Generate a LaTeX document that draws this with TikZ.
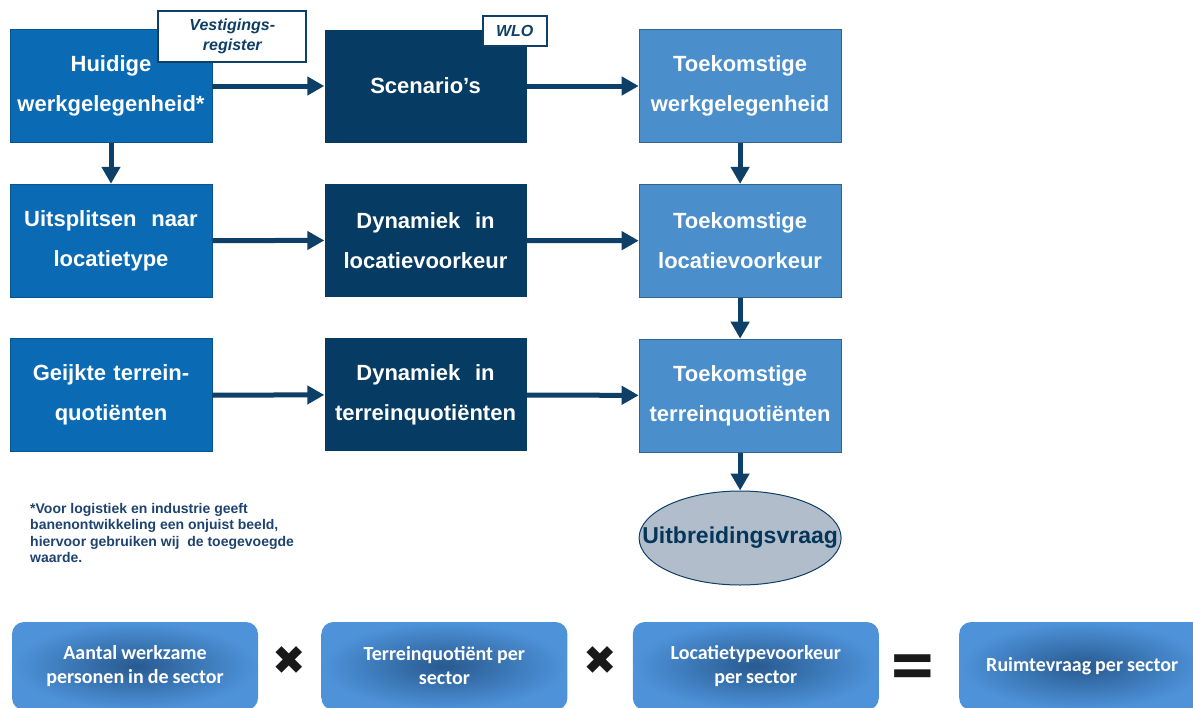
\documentclass[tikz,border=0pt]{standalone}
\usepackage{fontspec}
\setmainfont{Liberation Sans}
\newfontfamily\calibri{Carlito}
\newfontfamily\dejavu{DejaVu Sans}
\usepackage{tikz}
\usetikzlibrary{shapes, arrows.meta, calc, positioning}

\definecolor{midblue}{HTML}{0A6AB4}
\definecolor{navyblue}{HTML}{063C63}
\definecolor{lightblue}{HTML}{4A8FCB}
\definecolor{arrowblue}{HTML}{0E3F66}
\definecolor{ovalgray}{HTML}{B2BDCB}
\definecolor{notecol}{HTML}{1F4370}
\definecolor{sumdark}{HTML}{285A90}
\definecolor{sumlight}{HTML}{4E93DA}

\begin{document}
\begin{tikzpicture}[x=1pt, y=-1pt,
  box/.style={minimum width=202pt, minimum height=113pt, inner sep=0pt, text width=198pt,
    align=center, text=white, font=\fontsize{22}{40}\selectfont\bfseries},
  inbox/.style={box, fill=midblue, draw=midblue!80!black, line width=0.6pt},
  scenbox/.style={box, fill=navyblue},
  outbox/.style={box, fill=lightblue, draw=lightblue!70!black, line width=0.8pt},
  tag/.style={fill=white, draw=arrowblue, line width=2pt, inner sep=0pt, align=center,
    text=arrowblue, font=\fontsize{16}{20}\selectfont\bfseries\itshape},
  pijl/.style={line width=5pt, draw=arrowblue, -{Triangle[length=17pt,width=18pt]}},
  sumbox/.style={rounded corners=12pt, minimum width=246pt, minimum height=88pt, inner sep=0pt,
    text width=240pt, align=center, text=white, inner color=sumdark, outer color=sumlight,
    font=\calibri\fontsize{20}{24}\selectfont\bfseries,
    execute at begin node={\spaceskip=0.2em\relax}},
  teken/.style={inner sep=0pt, text=black!90, font=\dejavu\fontsize{40}{40}\selectfont}
]
\useasboundingbox (0,0) rectangle (1193,707);

% bovenste rij
\node[inbox] (huidig) at (111,86) {Huidige\\werkgelegenheid*};
\node[scenbox, right=112pt of huidig] (scen) {Scenario’s};
\node[outbox, right=112pt of scen] (tkwerk) {Toekomstige\\werkgelegenheid};
\node[tag, minimum width=148pt, minimum height=51pt] (vreg)
  at ([shift={(20,7.5)}]huidig.north east) {Vestigings-\\register};
\node[tag, minimum width=64pt, minimum height=30pt] (wlo)
  at ([shift={(-12,1.5)}]scen.north east) {WLO};

% middelste rij
\node[inbox, below=41pt of huidig] (uitspl) {Uitsplitsen\ \ naar\\locatietype};
\node[scenbox, below=41pt of scen] (dynloc) {Dynamiek\ \ in\\locatievoorkeur};
\node[outbox, below=41pt of tkwerk] (tkloc) {Toekomstige\\locatievoorkeur};

% onderste rij
\node[inbox, below=41pt of uitspl] (geijkt) {Geijkte terrein-\\quotiënten};
\node[scenbox, below=41pt of dynloc] (dynterr) {Dynamiek\ \ in\\terreinquotiënten};
\node[outbox, below=41pt of tkloc] (tkterr) {Toekomstige\\terreinquotiënten};

\node[ellipse, fill=ovalgray, draw=arrowblue, line width=1pt, minimum width=202pt,
  minimum height=94pt, inner sep=0pt, below=38pt of tkterr,
  label={[text=navyblue!90!black, font=\fontsize{23}{23}\selectfont\bfseries]center:Uitbreidingsvraag}] (vraag) {};

\draw[pijl] (huidig) -- (scen);
\draw[pijl] (scen) -- (tkwerk);
\draw[pijl] (uitspl) -- (dynloc);
\draw[pijl] (dynloc) -- (tkloc);
\draw[pijl] (geijkt) -- (dynterr);
\draw[pijl] (dynterr) -- (tkterr);
\draw[pijl] (huidig) -- (uitspl);
\draw[pijl] (tkwerk) -- (tkloc);
\draw[pijl] (tkloc) -- (tkterr);
\draw[pijl] (tkterr) -- (vraag);

\node[anchor=north west, align=left, inner sep=0pt, text=notecol,
  font=\fontsize{14}{16.5}\selectfont\bfseries] (noot) at (30,503)
  {*Voor logistiek en industrie geeft\\banenontwikkeling een onjuist beeld,\\hiervoor gebruiken wij\ \ de toegevoegde\\waarde.};

% formule onderaan
\node[sumbox] (aantal) at (135,666) {Aantal werkzame\\personen in de sector};
\node[sumbox, right=63pt of aantal] (terrq) {Terreinquotiënt per\\sector};
\node[sumbox, right=65pt of terrq] (locvk) {Locatietypevoorkeur\\per sector};
\node[sumbox, right=80pt of locvk] (ruimte) {Ruimtevraag per sector};
\node[teken] (maal1) at ([yshift=5pt]$(aantal.east)!0.5!(terrq.west)$) {✖};
\node[teken] (maal2) at ([yshift=5pt]$(terrq.east)!0.5!(locvk.west)$) {✖};
\node[teken] (is) at ([shift={(-6,5)}]$(locvk.east)!0.5!(ruimte.west)$) {\bfseries\scalebox{1.45}[1.7]{=}};
\end{tikzpicture}
\end{document}
